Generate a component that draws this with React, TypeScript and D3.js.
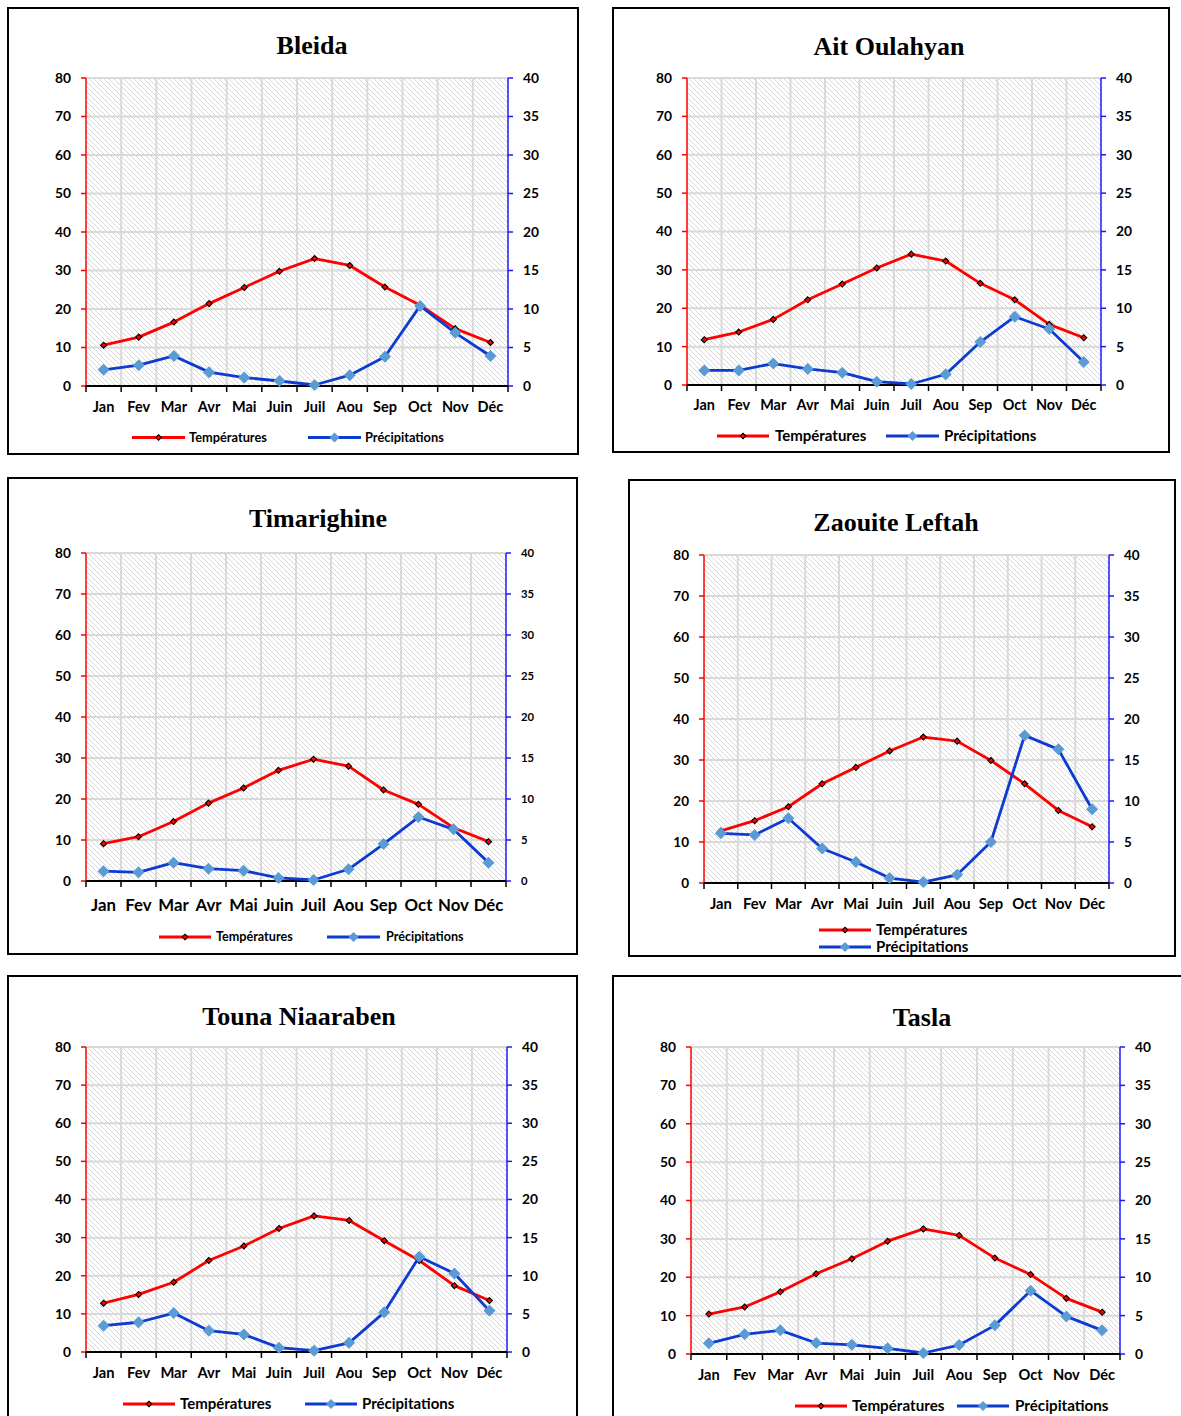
import React from 'react';
import * as d3 from 'd3';

// months and axis ticks
const months = ['Jan', 'Fev', 'Mar', 'Avr', 'Mai', 'Juin', 'Juil', 'Aou', 'Sep', 'Oct', 'Nov', 'Déc'];
const tempTicks = [0, 10, 20, 30, 40, 50, 60, 70, 80];
const precipTicks = [0, 5, 10, 15, 20, 25, 30, 35, 40];

// values (°C on the left axis, mm on the right axis)
const bleidaTemp = [10.6, 12.7, 16.6, 21.4, 25.6, 29.8, 33.1, 31.3, 25.7, 21.0, 14.9, 11.3];
const bleidaPrecip = [2.1, 2.7, 3.9, 1.8, 1.1, 0.65, 0.13, 1.4, 3.8, 10.4, 6.9, 3.9];

const aitTemp = [11.8, 13.8, 17.1, 22.2, 26.3, 30.5, 34.1, 32.3, 26.5, 22.2, 15.8, 12.3];
const aitPrecip = [1.9, 1.9, 2.8, 2.1, 1.6, 0.43, 0.13, 1.4, 5.6, 8.9, 7.3, 3.0];

const timTemp = [9.1, 10.8, 14.5, 19.0, 22.7, 27.0, 29.7, 28.0, 22.2, 18.7, 13.0, 9.6];
const timPrecip = [1.2, 1.06, 2.24, 1.5, 1.26, 0.37, 0.12, 1.43, 4.5, 7.8, 6.3, 2.24];

const zaoTemp = [12.7, 15.2, 18.6, 24.2, 28.2, 32.2, 35.6, 34.6, 29.9, 24.2, 17.7, 13.7];
const zaoPrecip = [6.06, 5.86, 7.9, 4.2, 2.56, 0.6, 0.12, 1.0, 5.0, 18.0, 16.3, 9.0];

const tounaTemp = [12.8, 15.1, 18.3, 24.0, 27.8, 32.4, 35.7, 34.5, 29.2, 24.0, 17.4, 13.5];
const tounaPrecip = [3.45, 3.9, 5.1, 2.8, 2.3, 0.57, 0.17, 1.2, 5.2, 12.5, 10.3, 5.4];

const taslaTemp = [10.4, 12.25, 16.2, 20.9, 24.8, 29.4, 32.6, 30.9, 25.0, 20.7, 14.5, 10.9];
const taslaPrecip = [1.39, 2.56, 3.08, 1.43, 1.2, 0.74, 0.13, 1.17, 3.73, 8.25, 4.9, 3.08];

const seriesNames = ['Températures', 'Précipitations'];

const SANS = 'Lato, "DejaVu Sans", sans-serif';
const SERIF = '"Liberation Serif", "Times New Roman", serif';
const RED = '#ff0000';
const BLUE_LINE = '#0d3bd1';
const BLUE_MARK = '#5b9bd5';
const GRID = '#d9d9d9';

interface Layout {
  box: [number, number, number, number];
  plot: [number, number, number, number];
  titleX: number;
  titleY: number;
  monthY: number;
  monthFont: number;
  tickFont: number;
  rightTickFont: number;
  legendFont: number;
  legend: { x1: number; x2: number; y: number; tx: number }[];
}

const panels: { name: string; temp: number[]; precip: number[]; layout: Layout }[] = [
  {
    name: 'Bleida', temp: bleidaTemp, precip: bleidaPrecip,
    layout: {
      box: [8, 8, 570, 446], plot: [86, 78, 508, 386], titleX: 312, titleY: 54,
      monthY: 412, monthFont: 14.5, tickFont: 13.8, rightTickFont: 13.8, legendFont: 12.8,
      legend: [{ x1: 132, x2: 185, y: 437.5, tx: 189 }, { x1: 308, x2: 361, y: 437.5, tx: 365 }],
    },
  },
  {
    name: 'Ait Oulahyan', temp: aitTemp, precip: aitPrecip,
    layout: {
      box: [613, 8, 556, 444], plot: [687, 78, 1101, 385], titleX: 889, titleY: 55,
      monthY: 410, monthFont: 14.4, tickFont: 13.8, rightTickFont: 13.8, legendFont: 15,
      legend: [{ x1: 717, x2: 769, y: 436, tx: 775 }, { x1: 886, x2: 939, y: 436, tx: 944 }],
    },
  },
  {
    name: 'Timarighine', temp: timTemp, precip: timPrecip,
    layout: {
      box: [8, 478, 569, 476], plot: [86, 553, 506, 881], titleX: 318, titleY: 527,
      monthY: 911, monthFont: 16.8, tickFont: 13.7, rightTickFont: 11.3, legendFont: 12.6,
      legend: [{ x1: 159, x2: 211, y: 937, tx: 216 }, { x1: 327, x2: 380, y: 937, tx: 386 }],
    },
  },
  {
    name: 'Zaouite Leftah', temp: zaoTemp, precip: zaoPrecip,
    layout: {
      box: [629, 480, 546, 476], plot: [704, 555, 1109, 883], titleX: 896, titleY: 531,
      monthY: 909, monthFont: 14.8, tickFont: 13.5, rightTickFont: 13.5, legendFont: 15,
      legend: [{ x1: 819, x2: 871, y: 930, tx: 876 }, { x1: 819, x2: 871, y: 947, tx: 876 }],
    },
  },
  {
    name: 'Touna Niaaraben', temp: tounaTemp, precip: tounaPrecip,
    layout: {
      box: [8, 976, 569, 460], plot: [86, 1047, 507, 1352], titleX: 299, titleY: 1025,
      monthY: 1378, monthFont: 14.7, tickFont: 13.8, rightTickFont: 13.8, legendFont: 15,
      legend: [{ x1: 123, x2: 175, y: 1404, tx: 180 }, { x1: 305, x2: 357, y: 1404, tx: 362 }],
    },
  },
  {
    name: 'Tasla', temp: taslaTemp, precip: taslaPrecip,
    layout: {
      box: [613, 976, 600, 460], plot: [691, 1047, 1120, 1354], titleX: 922, titleY: 1026,
      monthY: 1380, monthFont: 14.6, tickFont: 13.8, rightTickFont: 13.8, legendFont: 15.2,
      legend: [{ x1: 795, x2: 847, y: 1406, tx: 852 }, { x1: 957, x2: 1009, y: 1406, tx: 1015 }],
    },
  },
];

const diamond = (r: number) => `M0,${-r}L${r},0L0,${r}L${-r},0Z`;

const Panel: React.FC<{ name: string; temp: number[]; precip: number[]; layout: Layout }> = ({ name, temp, precip, layout }) => {
  const [left, top, right, bottom] = layout.plot;
  const x = d3.scaleBand<string>().domain(months).range([left, right]).paddingInner(0).paddingOuter(0);
  const yT = d3.scaleLinear().domain([0, 80]).range([bottom, top]);
  const yP = d3.scaleLinear().domain([0, 40]).range([bottom, top]);
  const cx = (m: string) => (x(m) ?? 0) + x.bandwidth() / 2;

  const tempLine = d3.line<number>().x((_, i) => cx(months[i])).y(d => yT(d))(temp) ?? '';
  const precipLine = d3.line<number>().x((_, i) => cx(months[i])).y(d => yP(d))(precip) ?? '';
  const boundaries = months.map(m => x(m) ?? 0).concat([right]);
  const [bx, by, bw, bh] = layout.box;

  return (
    <g>
      <rect x={bx} y={by} width={bw} height={bh} fill="#fff" stroke="#000" strokeWidth={2} />
      <text x={layout.titleX} y={layout.titleY} textAnchor="middle" fontFamily={SERIF} fontWeight="bold" fontSize={26} fill="#000">{name}</text>

      {/* plot area with hatch */}
      <rect x={left} y={top} width={right - left} height={bottom - top} fill="#fff" />
      <rect x={left} y={top} width={right - left} height={bottom - top} fill="url(#hatch)" />
      {tempTicks.filter(t => t > 0).map(t => (
        <line key={`h${t}`} x1={left} x2={right} y1={yT(t)} y2={yT(t)} stroke={GRID} strokeWidth={2} />
      ))}
      {boundaries.slice(1, -1).map((b, i) => (
        <line key={`v${i}`} x1={b} x2={b} y1={top} y2={bottom} stroke={GRID} strokeWidth={2} />
      ))}

      {/* left axis */}
      <line x1={left} x2={left} y1={top} y2={bottom} stroke={RED} strokeWidth={1.5} />
      {tempTicks.map(t => (
        <g key={`lt${t}`}>
          <line x1={left - 5} x2={left} y1={yT(t)} y2={yT(t)} stroke={RED} strokeWidth={1.5} />
          <text x={left - 15} y={yT(t)} dy="0.36em" textAnchor="end" fontFamily={SANS} fontWeight="bold" fontSize={layout.tickFont} fill="#000">{t}</text>
        </g>
      ))}

      {/* right axis */}
      <line x1={right} x2={right} y1={top} y2={bottom} stroke="#1a1aff" strokeWidth={1.5} />
      {precipTicks.map(t => (
        <g key={`rt${t}`}>
          <line x1={right} x2={right + 5} y1={yP(t)} y2={yP(t)} stroke="#1a1aff" strokeWidth={1.5} />
          <text x={right + 15} y={yP(t)} dy="0.36em" textAnchor="start" fontFamily={SANS} fontWeight="bold" fontSize={layout.rightTickFont} fill="#000">{t}</text>
        </g>
      ))}

      {/* bottom axis */}
      <line x1={left} x2={right} y1={bottom} y2={bottom} stroke="#000" strokeWidth={2} />
      {boundaries.map((b, i) => (
        <line key={`bt${i}`} x1={b} x2={b} y1={bottom} y2={bottom + 6} stroke="#000" strokeWidth={1.5} />
      ))}
      {months.map(m => (
        <text key={m} x={cx(m)} y={layout.monthY} textAnchor="middle" fontFamily={SANS} fontWeight="bold" fontSize={layout.monthFont} fill="#000">{m}</text>
      ))}

      {/* series */}
      <path d={tempLine} fill="none" stroke={RED} strokeWidth={2.8} strokeLinejoin="round" />
      {temp.map((v, i) => (
        <path key={`tm${i}`} d={diamond(3)} transform={`translate(${cx(months[i])},${yT(v)})`} fill={RED} stroke="#000" strokeWidth={1.1} />
      ))}
      <path d={precipLine} fill="none" stroke={BLUE_LINE} strokeWidth={2.8} strokeLinejoin="round" />
      {precip.map((v, i) => (
        <path key={`pm${i}`} d={diamond(6)} transform={`translate(${cx(months[i])},${yP(v)})`} fill={BLUE_MARK} />
      ))}

      {/* legend */}
      {layout.legend.map((it, i) => (
        <g key={`lg${i}`}>
          <line x1={it.x1} x2={it.x2} y1={it.y} y2={it.y} stroke={i === 0 ? RED : BLUE_LINE} strokeWidth={2.8} />
          {i === 0 ? (
            <path d={diamond(2.8)} transform={`translate(${(it.x1 + it.x2) / 2},${it.y})`} fill={RED} stroke="#000" strokeWidth={1.1} />
          ) : (
            <path d={diamond(5)} transform={`translate(${(it.x1 + it.x2) / 2},${it.y})`} fill={BLUE_MARK} />
          )}
          <text x={it.tx} y={it.y} dy="0.35em" fontFamily={SANS} fontWeight="bold" fontSize={layout.legendFont} fill="#000">{seriesNames[i]}</text>
        </g>
      ))}
    </g>
  );
};

export default function App() {
  return (
    <svg width={1181} height={1416} style={{ position: 'absolute', left: 0, top: 0, display: 'block' }}>
      <defs>
        <pattern id="hatch" patternUnits="userSpaceOnUse" width={5} height={5}>
          <path d="M0,0L5,5M-1,4L1,6M4,-1L6,1" stroke="#d8d8d8" strokeWidth={1} />
        </pattern>
      </defs>
      <rect width={1181} height={1416} fill="#fff" />
      {panels.map(p => (
        <Panel key={p.name} name={p.name} temp={p.temp} precip={p.precip} layout={p.layout} />
      ))}
    </svg>
  );
}
